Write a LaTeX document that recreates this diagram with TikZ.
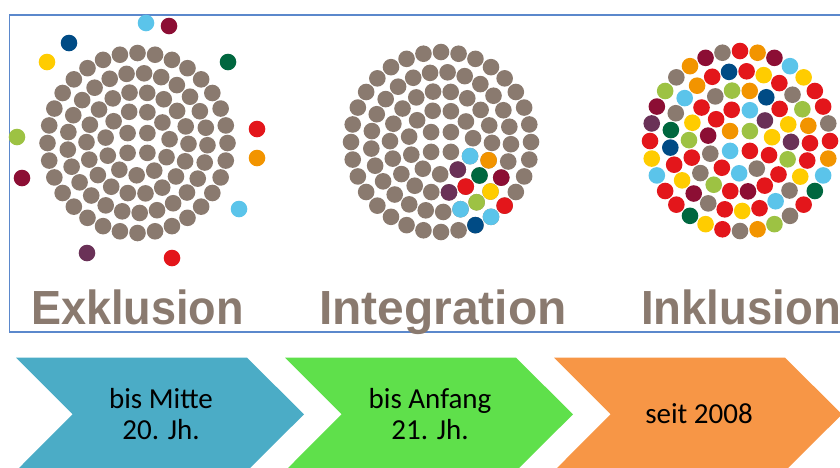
\documentclass[tikz,border=0pt]{standalone}
\usepackage{fontspec}
\setmainfont{Carlito}
\newfontfamily\headfont{Liberation Sans}
\definecolor{cG}{HTML}{8A7A6F}
\definecolor{cR}{HTML}{E3161B}
\definecolor{cO}{HTML}{F29400}
\definecolor{cY}{HTML}{FFCC00}
\definecolor{cLG}{HTML}{9DC243}
\definecolor{cDG}{HTML}{00673F}
\definecolor{cLB}{HTML}{5BC4EA}
\definecolor{cDB}{HTML}{004B85}
\definecolor{cDR}{HTML}{8C0E34}
\definecolor{cP}{HTML}{6A3157}
\definecolor{frameblue}{HTML}{5B88CC}
\definecolor{chevblue}{HTML}{4BACC6}
\definecolor{chevgreen}{HTML}{5FE04B}
\definecolor{chevorange}{HTML}{F79646}
\newcommand{\dotr}{8.3}
\tikzset{
  bigword/.style={text=cG, font=\headfont\bfseries\fontsize{47.9}{50}\selectfont, inner sep=0pt, anchor=base},
  chevtext/.style={text=black, font=\fontsize{29}{30.4}\selectfont, align=center, inner sep=0pt},
  grayrings/.pic={
    \foreach \r/\n/\s in {14/4/45, 32.3/11/-26, 51/18/-1, 70/25/-1.8, 90/32/0}{
      \foreach \k in {1,...,\n}{
        \fill[cG] ({-(\s+360/\n*(\k-1))}:\r) circle (\dotr);
      }
    }
  }
}
\begin{document}
\begin{tikzpicture}[x=1pt,y=-1pt]
\useasboundingbox (0,0) rectangle (840,467);
% frame
\draw[frameblue, line width=1.6pt] (850,14.7) -- (9.5,14.7) -- (9.5,331.7) -- (850,331.7);
% Exklusion
\pic at (137.5,143) {grayrings};
\foreach \c/\x/\y in {cLB/146/23, cDR/169/26, cDB/69/43, cY/47/62, cDG/228/62, cR/257/129, cO/257/158, cLG/17/137, cDR/22/178, cLB/239/209, cP/87/253, cR/172/258}{
  \fill[\c] (\x,\y) circle (\dotr);
}
% Integration
\pic at (441,142) {grayrings};
\begin{scope}[shift={(441,142)}]
\foreach \c/\a/\r in {cLB/26/32.3, cP/58.7/32.3, cO/21/51, cDG/41/51, cR/61/51, cP/81/51, cDR/30.6/70, cY/45/70, cLG/59.4/70, cLB/73.8/70, cR/45/90, cLB/56.25/90, cDB/67.5/90}{
  \fill[\c] (\a:\r) circle (\dotr);
}
\end{scope}
% Inklusion
\begin{scope}[shift={(740,141)}]
\foreach \c [count=\k from 0] in {cLG,cO,cLB,cR}{
  \fill[\c] ({-(45+90*\k)}:14) circle (\dotr);}
\foreach \c [count=\k from 0] in {cR,cY,cP,cLB,cR,cR,cDR,cG,cR,cLB,cG}{
  \fill[\c] ({-(-26+360/11*\k)}:32.3) circle (\dotr);}
\foreach \c [count=\k from 0] in {cP,cY,cR,cDB,cO,cLG,cG,cR,cY,cLG,cR,cG,cLG,cR,cDR,cR,cR,cLG}{
  \fill[\c] ({-(-1+20*\k)}:51) circle (\dotr);}
\foreach \c [count=\k from 0] in {cR,cO,cLG,cG,cR,cY,cR,cDB,cR,cO,cLB,cG,cDG,cDB,cR,cY,cDR,cG,cR,cY,cR,cLB,cG,cY,cR}{
  \fill[\c] ({-(-1.8+14.4*\k)}:70) circle (\dotr);}
\foreach \c [count=\k from 0] in {cR,cG,cR,cR,cY,cLB,cDR,cO,cR,cG,cDR,cO,cG,cLG,cDR,cP,cR,cY,cLB,cR,cR,cDG,cY,cR,cG,cO,cLG,cG,cR,cDG,cLB,cO}{
  \fill[\c] ({-(11.25*\k)}:90) circle (\dotr);}
\end{scope}
% big words
\node[bigword] (exk) at (137.5,324.3) {\scalebox{0.94}[1]{Exklusion}};
\node[bigword] (int) at (443,324.3) {\scalebox{1.0}[1]{Integration}};
\node[bigword] (ink) at (741,324.3) {\scalebox{0.95}[1]{Inklusion}};
% chevrons
\fill[chevblue] (16,357.7) -- (247,357.7) -- (304,414.3) -- (247,471) -- (16,471) -- (72.6,414.3) -- cycle;
\fill[chevgreen] (285,357.7) -- (516,357.7) -- (573,414.3) -- (516,471) -- (285,471) -- (341.6,414.3) -- cycle;
\fill[chevorange] (554,357.7) -- (785,357.7) -- (842,414.3) -- (785,471) -- (554,471) -- (610.6,414.3) -- cycle;
\node[chevtext] (t1) at (161,414) {bis Mitte\\20. Jh.};
\node[chevtext] (t2) at (430,414) {bis Anfang\\21. Jh.};
\node[chevtext] (t3) at (699,414) {seit 2008};
\end{tikzpicture}
\end{document}
